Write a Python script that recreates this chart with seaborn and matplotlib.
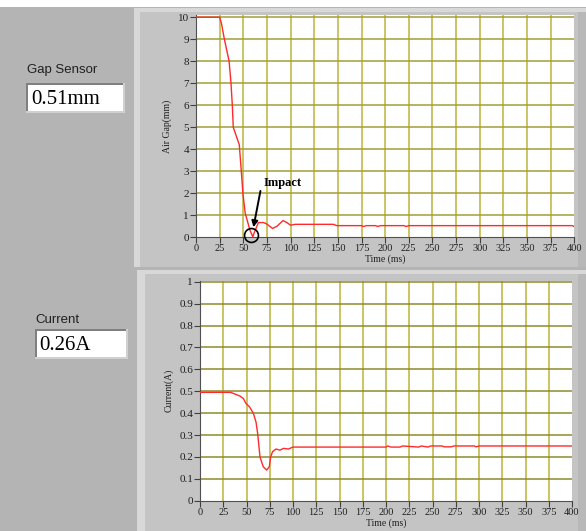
import seaborn as sns
import matplotlib
matplotlib.use("Agg")
from matplotlib import pyplot as plt
from matplotlib.patches import Rectangle

# ---- data ----
gap_time = [0, 25, 27, 30, 35, 37, 38.4, 39.4, 45.8, 47.9, 49.6, 52, 57, 60, 62.7, 66,
            71.5, 75, 81, 85.5, 92, 96, 100, 105, 145, 149, 175, 177, 180, 190, 192,
            195, 220, 222, 225, 398, 400]
gap_mm = [10, 10, 9.7, 9, 8, 7, 6, 5, 4.2, 3, 2, 1.1, 0.33, 0.03, 0.33, 0.67,
          0.67, 0.6, 0.4, 0.5, 0.76, 0.67, 0.55, 0.59, 0.59, 0.53, 0.53, 0.49, 0.53, 0.53, 0.49,
          0.53, 0.53, 0.49, 0.53, 0.53, 0.48]

cur_time = [0, 33, 43, 46.6, 49.5, 53, 57.3, 60.2, 62, 64.5, 68, 71.7, 74.5, 76, 78,
            81.7, 86, 89.6, 95, 100, 200, 202, 205, 215, 218, 235, 238, 245, 248,
            260, 263, 270, 273, 295, 297, 300, 400]
cur_a = [0.495, 0.495, 0.478, 0.467, 0.444, 0.43, 0.40, 0.36, 0.307, 0.20, 0.155, 0.14, 0.155, 0.20, 0.224,
         0.236, 0.231, 0.239, 0.236, 0.245, 0.245, 0.25, 0.245, 0.245, 0.25, 0.245, 0.25, 0.245, 0.25,
         0.25, 0.246, 0.246, 0.25, 0.25, 0.246, 0.25, 0.25]

x_ticks = list(range(0, 401, 25))
gap_ticks = list(range(0, 11))
cur_ticks = [0, 0.1, 0.2, 0.3, 0.4, 0.5, 0.6, 0.7, 0.8, 0.9, 1]
cur_tick_labels = ["0", "0.1", "0.2", "0.3", "0.4", "0.5", "0.6", "0.7", "0.8", "0.9", "1"]

gap_reading = "0.51mm"
cur_reading = "0.26A"
impact_point = (58.5, 0.1)

sns.set_style("white")
plt.rcParams['font.family'] = ['Liberation Serif', 'DejaVu Serif']

W, H = 586, 531
fig = plt.figure(figsize=(W / 100, H / 100), dpi=100)
fig.patch.set_facecolor("white")


def px_rect(x0, y0, x1, y1, **kw):
    # rectangle given in pixel coords, origin top-left; drawn behind the axes
    r = Rectangle((x0 / W, 1 - y1 / H), (x1 - x0) / W, (y1 - y0) / H,
                  transform=fig.transFigure, zorder=-10, **kw)
    fig.add_artist(r)


def px_axes(x0, y0, x1, y1):
    return fig.add_axes([x0 / W, 1 - y1 / H, (x1 - x0) / W, (y1 - y0) / H])


# panel background
px_rect(0, 7, W, H, facecolor="#b4b4b4", edgecolor="none")
# chart panels
px_rect(134, 8, W, 267, facecolor="#d8d8d8", edgecolor="none")
px_rect(140, 12, 578, 267, facecolor="#c4c4c4", edgecolor="none")
px_rect(578, 12, W, 267, facecolor="#b8b8b8", edgecolor="none")
px_rect(137, 270, W, H, facecolor="#d8d8d8", edgecolor="none")
px_rect(145, 274, 578, H, facecolor="#c4c4c4", edgecolor="none")
px_rect(578, 274, W, H, facecolor="#b8b8b8", edgecolor="none")

# indicator boxes
for (x0, y0, x1, y1) in [(26, 83, 125, 113), (35, 329, 128, 359)]:
    px_rect(x0, y0, x1, y1, facecolor="#d0d0d0", edgecolor="none")
    px_rect(x0, y0, x1 - 2, y1 - 2, facecolor="#808080", edgecolor="none")
    px_rect(x0 + 2, y0 + 2, x1 - 2, y1 - 2, facecolor="white", edgecolor="none")

fig.text(27 / W, 1 - 70 / H, "Gap Sensor", fontsize=9.5, family=["Liberation Sans", "DejaVu Sans"],
         color="#202020", va="center", ha="left")
fig.text(31 / W, 1 - 99 / H, gap_reading, fontsize=15, va="center", ha="left", color="black")
fig.text(35 / W, 1 - 320 / H, "Current", fontsize=9.5, family=["Liberation Sans", "DejaVu Sans"],
         color="#202020", va="center", ha="left")
fig.text(39 / W, 1 - 345 / H, cur_reading, fontsize=15, va="center", ha="left", color="black")

vgrid = "#bdb43a"


def style_axes(ax, yticks, ylabels, ylim, ylabel, hgrid):
    ax.set_facecolor("white")
    ax.set_xlim(0, 400)
    ax.set_ylim(*ylim)
    ax.set_xticks(x_ticks)
    ax.set_yticks(yticks)
    ax.set_yticklabels(ylabels)
    for t in x_ticks[1:-1]:
        ax.axvline(t, color=vgrid, lw=1.1, zorder=0)
    for t in yticks[1:]:
        ax.axhline(t, color=hgrid, lw=1.1, zorder=0)
    for s in ["top", "right"]:
        ax.spines[s].set_visible(False)
    for s in ["left", "bottom"]:
        ax.spines[s].set_color("#505050")
        ax.spines[s].set_linewidth(0.8)
    ax.tick_params(axis="both", direction="out", length=4, width=0.8, color="#404040",
                   labelcolor="#202020", pad=1, left=True, bottom=True)
    ax.tick_params(axis="x", labelsize=7.5)
    ax.tick_params(axis="y", labelsize=8)
    ax.set_xlabel("Time (ms)", fontsize=7, labelpad=1, color="#202020")
    ax.set_ylabel(ylabel, fontsize=7, labelpad=4, color="#202020")


# top chart: air gap
ax1 = px_axes(196, 15, 574.3, 237.3)
sns.lineplot(x=gap_time, y=gap_mm, ax=ax1, color="#ff2a2a", linewidth=1.0, zorder=3)
style_axes(ax1, gap_ticks, [str(v) for v in gap_ticks], (0, 10.1), "Air Gap(mm)", "#a49e34")
ax1.plot(*impact_point, marker="o", ms=10, mfc="none", mec="black", mew=1.2, zorder=4, clip_on=False)
ax1.annotate("", xy=(60.2, 0.33), xytext=(68.7, 2.23),
             arrowprops=dict(arrowstyle="-|>", color="black", lw=1.4, mutation_scale=9), zorder=5)
ax1.text(71.9, 2.48, "Impact", fontsize=9, fontweight="bold", va="center", ha="left", color="black")

# bottom chart: coil current
ax2 = px_axes(200, 280.7, 572, 500.7)
sns.lineplot(x=cur_time, y=cur_a, ax=ax2, color="#ff2a2a", linewidth=1.0, zorder=3)
style_axes(ax2, cur_ticks, cur_tick_labels, (0, 1.005), "Current(A)", "#8e8a2c")

fig.savefig("out.png", dpi=100)
